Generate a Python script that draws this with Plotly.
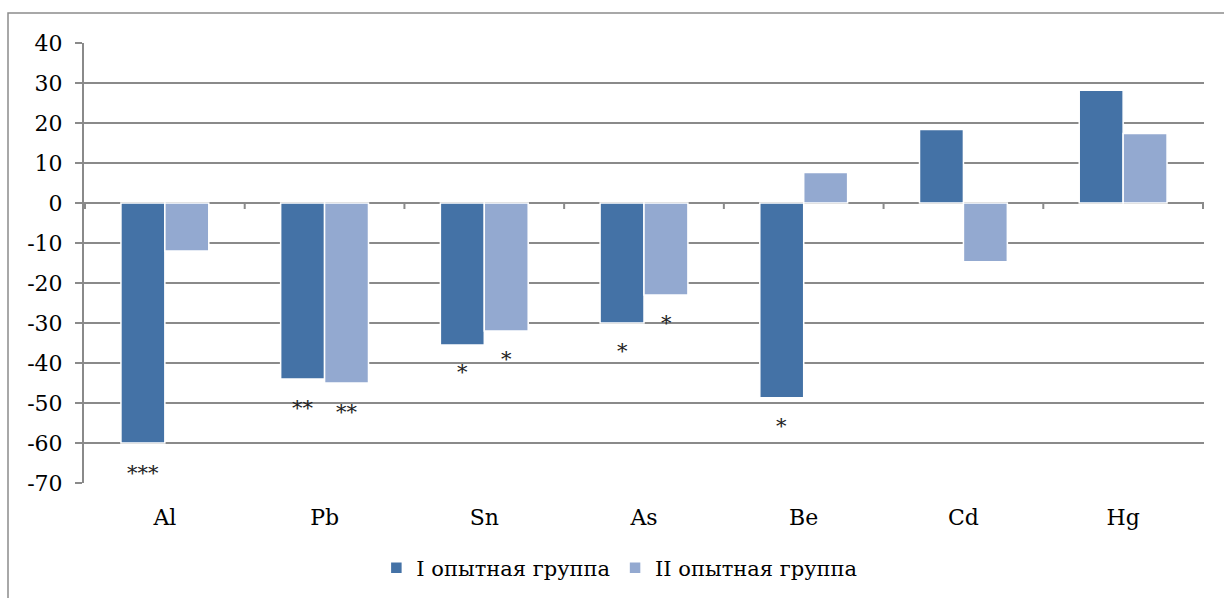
import plotly.graph_objects as go

elements = ["Al", "Pb", "Sn", "As", "Be", "Cd", "Hg"]
group_1 = [-60, -44, -35.5, -30, -48.7, 18.4, 28.2]
group_2 = [-12, -45, -32, -23, 7.6, -14.7, 17.4]
y_ticks = [40, 30, 20, 10, 0, -10, -20, -30, -40, -50, -60, -70]

# significance marks: (element, series offset in px, y value, label)
marks = [
    ("Al", -22, -67.4, "***"),
    ("Pb", -22, -51.3, "**"),
    ("Pb", 22, -52.3, "**"),
    ("Sn", -22, -42.2, "*"),
    ("Sn", 22, -38.9, "*"),
    ("As", -22, -36.9, "*"),
    ("As", 22, -30.0, "*"),
    ("Be", -22, -55.8, "*"),
]

FONT = "DejaVu Serif"
DARK = "#4472a6"
LIGHT = "#93a9d0"
GRID = "#8a8a8a"

fig = go.Figure()
fig.add_trace(go.Bar(
    x=elements, y=group_1, name="I опытная группа",
    marker=dict(color=DARK, line=dict(color="white", width=1.5)),
))
fig.add_trace(go.Bar(
    x=elements, y=group_2, name="II опытная группа",
    marker=dict(color=LIGHT, line=dict(color="white", width=1.5)),
))

for el, dx, yv, txt in marks:
    fig.add_annotation(
        x=el, y=yv, text=txt, showarrow=False, xshift=dx,
        font=dict(family=FONT, size=21, color="#222"),
        xanchor="center", yanchor="middle",
    )

# outer chart frame
fig.add_shape(
    type="rect", xref="paper", yref="paper",
    x0=-76 / 1120, x1=1148 / 1120, y0=-0.3, y1=1.068,
    line=dict(color="#8c8c8c", width=1.5), fillcolor="rgba(0,0,0,0)",
    layer="below",
)

fig.update_layout(
    width=1224, height=598,
    margin=dict(l=84, r=20, t=43, b=115, autoexpand=False),
    paper_bgcolor="white", plot_bgcolor="white",
    barmode="group", bargap=0.45, bargroupgap=0,
    font=dict(family=FONT, size=21, color="black"),
    showlegend=True,
    legend=dict(
        orientation="h", x=0.478, xanchor="center",
        yref="container", y=0.05, yanchor="middle",
        font=dict(family=FONT, size=21, color="black"),
        traceorder="normal", itemwidth=30,
    ),
    xaxis=dict(
        showgrid=False, showline=False, ticks="", automargin=False,
        tickfont=dict(family=FONT, size=22), ticklabelstandoff=19,
    ),
    yaxis=dict(
        range=[-70, 40], tickvals=y_ticks, ticktext=[str(v) for v in y_ticks],
        automargin=False,
        showgrid=True, gridcolor=GRID, gridwidth=2,
        zeroline=True, zerolinecolor=GRID, zerolinewidth=2,
        showline=True, linecolor=GRID, linewidth=2,
        ticks="outside", ticklen=7, tickcolor=GRID, tickwidth=2,
        tickfont=dict(family=FONT, size=22), ticklabelstandoff=8,
    ),
)

# category separator ticks along the zero line
for i in range(len(elements) + 1):
    fig.add_shape(
        type="line", xref="x", yref="y",
        x0=i - 0.5, x1=i - 0.5, y0=0, y1=-1.5,
        line=dict(color=GRID, width=2), layer="below",
    )

fig.write_html("out.html")
